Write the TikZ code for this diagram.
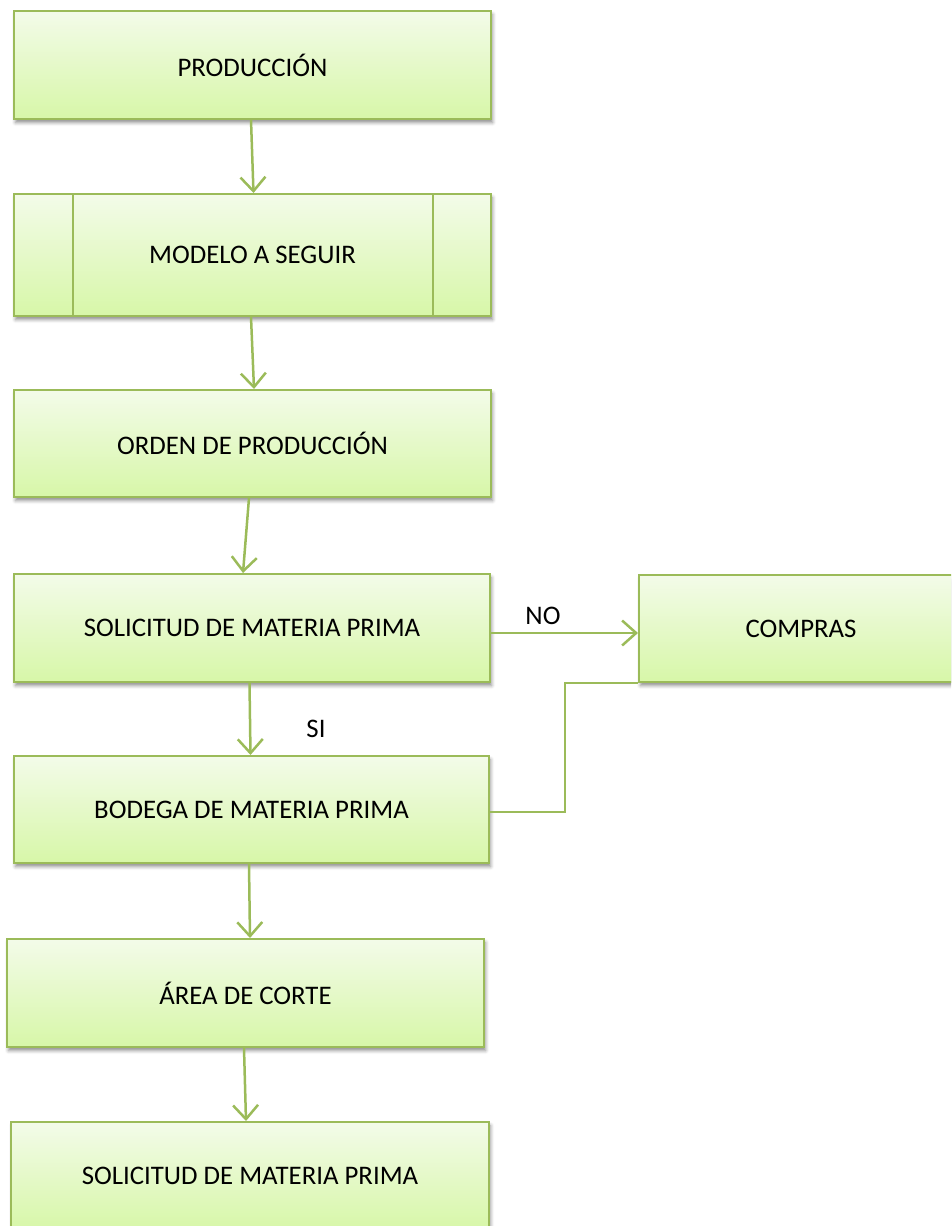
\documentclass[tikz,border=0pt]{standalone}
\usepackage{fontspec}
\setmainfont{Carlito}
\usetikzlibrary{arrows.meta,shadows.blur}

\definecolor{edgegreen}{RGB}{155,187,89}
\definecolor{filltop}{RGB}{243,251,233}
\definecolor{fillbot}{RGB}{215,247,168}

\tikzset{
  stepbox/.style={draw=edgegreen, line width=2pt,
    top color=filltop, bottom color=fillbot,
    minimum width=477pt, minimum height=108pt, inner sep=0pt,
    font=\fontsize{26.8}{30}\selectfont,
    blur shadow={shadow xshift=1.5pt, shadow yshift=-3.5pt,
      shadow blur radius=3.5pt, shadow opacity=45}},
  link/.style={draw=edgegreen, line width=2.5pt,
    -{Straight Barb[length=14pt,width=25pt,line width=2.5pt]}},
  plainlink/.style={draw=edgegreen, line width=2.5pt},
  tag/.style={font=\fontsize{26.8}{30}\selectfont, inner sep=0pt}
}

\begin{document}
\begin{tikzpicture}[x=1pt,y=-1pt]
  \useasboundingbox (0,0) rectangle (951,1226);
  \clip (0,0) rectangle (951,1226);

  % process steps
  \node[stepbox] (prod) at (252.5,65) {PRODUCCIÓN};
  \node[stepbox, minimum height=122pt] (modelo) at (252.5,255) {MODELO A SEGUIR};
  \draw[edgegreen, line width=2pt]
    ([xshift=59.5pt]modelo.north west) -- ([xshift=59.5pt]modelo.south west)
    ([xshift=-59.5pt]modelo.north east) -- ([xshift=-59.5pt]modelo.south east);
  \node[stepbox, minimum height=107pt] (orden) at (252.5,443.5) {ORDEN DE PRODUCCIÓN};
  \node[stepbox, minimum width=476pt] (solic) at (252,628) {SOLICITUD DE MATERIA PRIMA};
  \node[stepbox, minimum width=324pt, minimum height=107pt] (compras) at (801,628.5) {COMPRAS};
  \node[stepbox, minimum width=475pt, minimum height=107pt] (bodega) at (251.5,809.5) {BODEGA DE MATERIA PRIMA};
  \node[stepbox] (corte) at (245.5,993) {ÁREA DE CORTE};
  \node[stepbox, minimum width=478pt] (solic2) at (250,1176) {SOLICITUD DE MATERIA PRIMA};

  % main flow
  \draw[link] ([xshift=-1.5pt]prod.south) -- ([xshift=1pt]modelo.north);
  \draw[link] ([xshift=-1.5pt]modelo.south) -- ([xshift=1.5pt]orden.north);
  \draw[link] ([xshift=-3.5pt]orden.south) -- ([xshift=-9pt]solic.north);
  \draw[link] ([xshift=-2.5pt]solic.south) -- ([xshift=-1pt]bodega.north);
  \draw[link] ([xshift=-2.5pt]bodega.south) -- ([xshift=4.5pt]corte.north);
  \draw[link] ([xshift=-1.5pt]corte.south) -- ([xshift=-4pt]solic2.north);

  % branch to purchasing and back
  \draw[link] ([yshift=-5pt]solic.east) -- ([yshift=-4.5pt]compras.west);
  \draw[plainlink] ([yshift=-2.5pt]bodega.east) -| ([xshift=-73pt]compras.south west) -- (compras.south west);

  % branch labels
  \node[tag] (no) at (543,616) {NO};
  \node[tag] (si) at (316,729) {SI};
\end{tikzpicture}
\end{document}
